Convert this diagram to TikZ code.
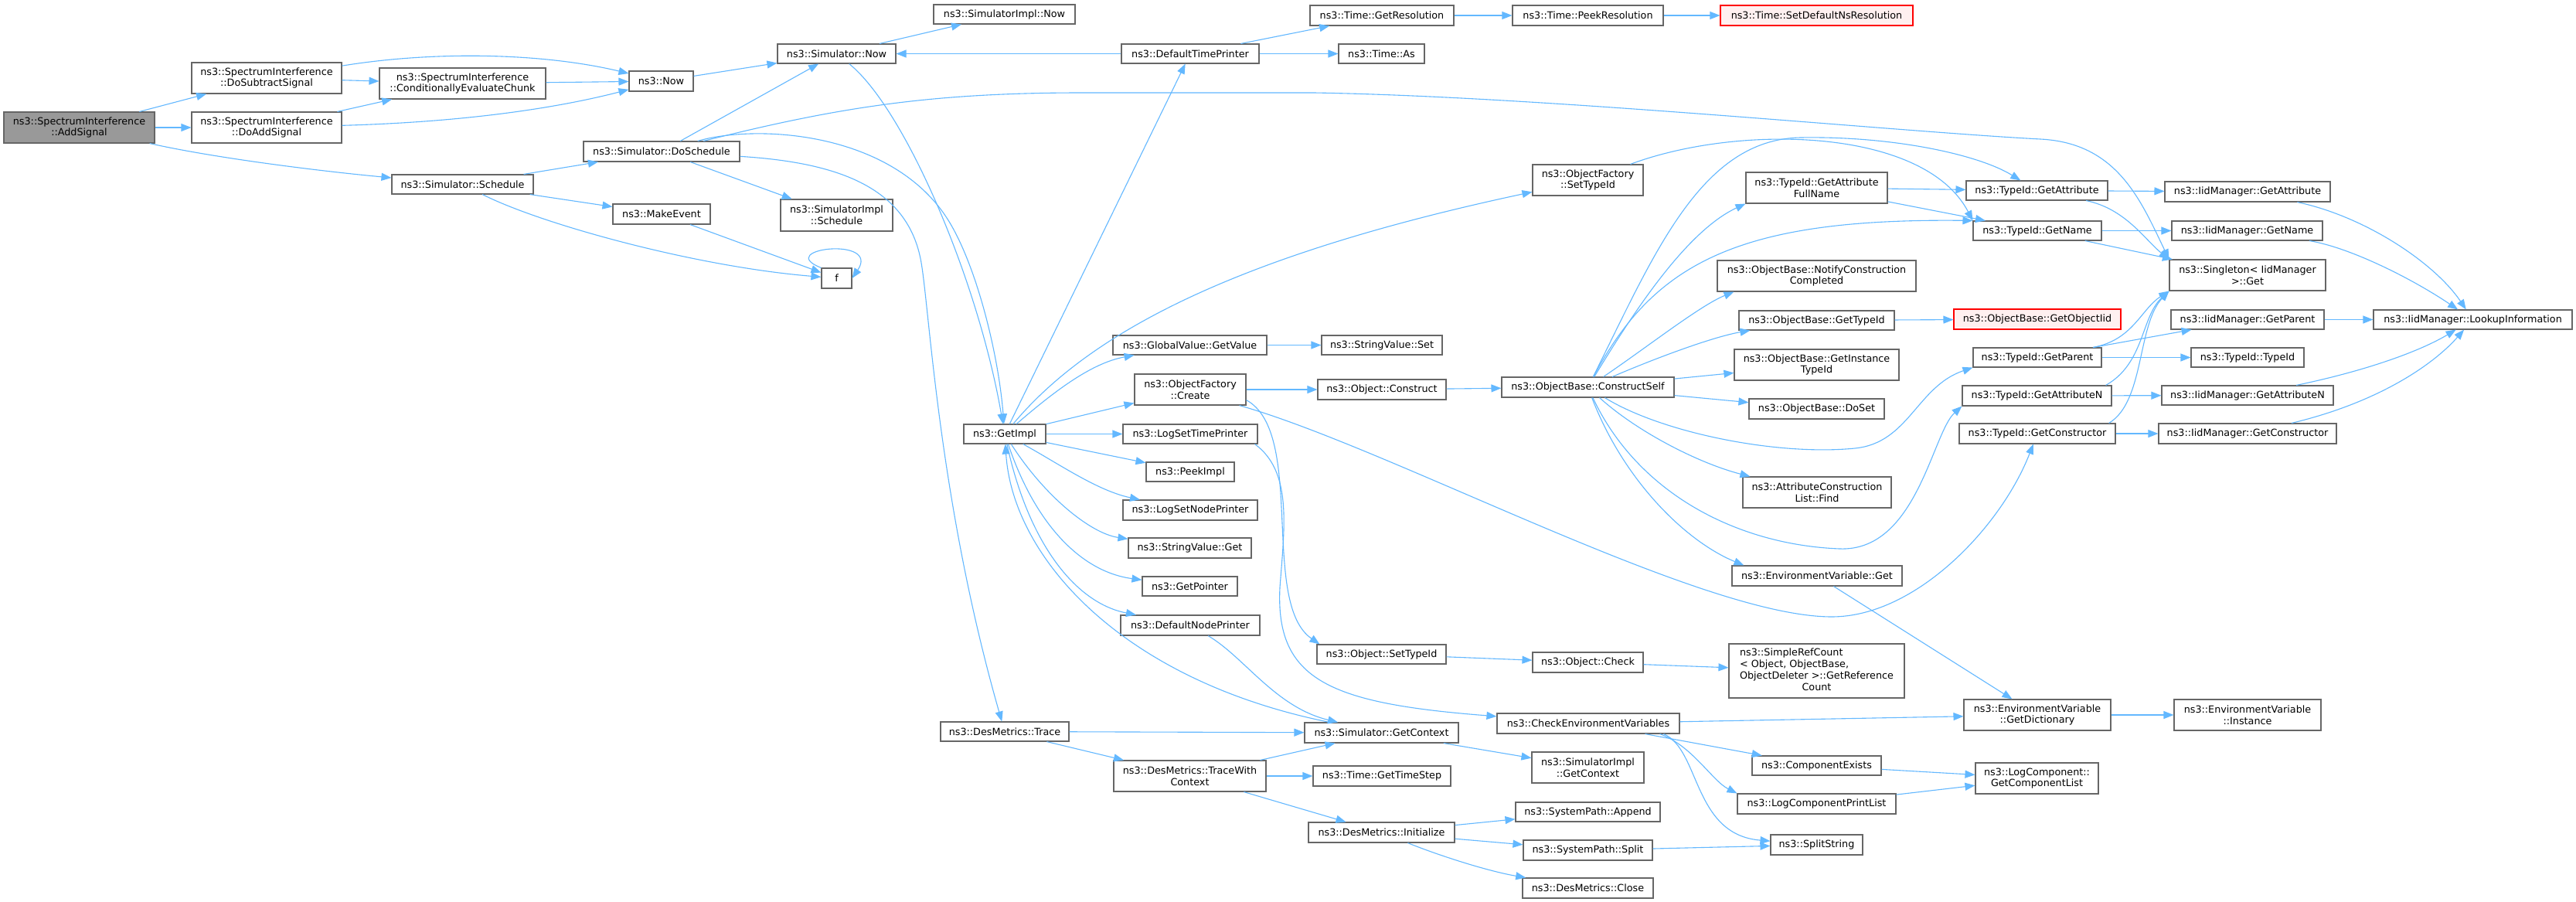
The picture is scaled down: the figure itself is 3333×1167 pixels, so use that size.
\documentclass[tikz,border=0pt]{standalone}
\usepackage{fontspec}
\setmainfont{DejaVu Sans}
\usetikzlibrary{arrows.meta}
\definecolor{edgec}{HTML}{63B8FF}
\definecolor{nodeb}{HTML}{666666}
\definecolor{rootf}{HTML}{999999}
\definecolor{redb}{HTML}{FF0000}
\definecolor{redf}{HTML}{FFF0F0}
\tikzset{
 box/.style={draw=nodeb, fill=white, line width=1.1pt, inner sep=1pt, align=center, font=\fontsize{12.75}{14.7}\selectfont, text=black},
 rootbox/.style={fill=rootf},
 redbox/.style={draw=redb, fill=redf},
 calledge/.style={draw=edgec, line width=1.1pt, -{Triangle[length=13pt,width=10pt]}}
}
\newcommand{\gbox}[7][]{\node[box,#1,minimum width={(#5-#3)*1pt},minimum height={(#6-#4)*1pt}] (#2) at ({(#3+#5)/2},{(#4+#6)/2}) {#7};}
\begin{document}
\begin{tikzpicture}[x=1pt,y=-1pt]
\fill[white] (0,0) rectangle (3333,1167);
\useasboundingbox (0,0) rectangle (3333,1167);
% nodes
\gbox[rootbox]{addsig}{5}{145}{200}{185}{ns3::SpectrumInterference\\::AddSignal}
\gbox{dosub}{248}{81}{442}{121}{ns3::SpectrumInterference\\::DoSubtractSignal}
\gbox{doadd}{248}{145}{442}{185}{ns3::SpectrumInterference\\::DoAddSignal}
\gbox{cond}{491}{88}{706}{128}{ns3::SpectrumInterference\\::ConditionallyEvaluateChunk}
\gbox{sched}{507}{226}{690}{251}{ns3::Simulator::Schedule}
\gbox{now}{814}{92}{897}{118}{ns3::Now}
\gbox{simnow}{1006}{57}{1159}{82}{ns3::Simulator::Now}
\gbox{dosched}{755}{183}{957}{209}{ns3::Simulator::DoSchedule}
\gbox{mkev}{793}{264}{919}{290}{ns3::MakeEvent}
\gbox{implsched}{1010}{258}{1155}{299}{ns3::SimulatorImpl\\::Schedule}
\gbox{f}{1063}{347}{1102}{373}{f}
\gbox{implnow}{1208}{6}{1391}{31}{ns3::SimulatorImpl::Now}
\gbox{dtp}{1451}{57}{1629}{82}{ns3::DefaultTimePrinter}
\gbox{getres}{1695}{7}{1881}{33}{ns3::Time::GetResolution}
\gbox{peekres}{1957}{7}{2152}{33}{ns3::Time::PeekResolution}
\gbox{timeas}{1732}{57}{1843}{82}{ns3::Time::As}
\gbox{ofset}{1983}{213}{2126}{253}{ns3::ObjectFactory\\::SetTypeId}
\gbox[redbox]{setdef}{2226}{7}{2475}{33}{ns3::Time::SetDefaultNsResolution}
\gbox{gafn}{2259}{223}{2442}{263}{ns3::TypeId::GetAttribute\\FullName}
\gbox{tga}{2544}{234}{2727}{259}{ns3::TypeId::GetAttribute}
\gbox{tgn}{2553}{286}{2719}{311}{ns3::TypeId::GetName}
\gbox{notify}{2222}{337}{2479}{377}{ns3::ObjectBase::NotifyConstruction\\Completed}
\gbox{obgt}{2250}{402}{2451}{427}{ns3::ObjectBase::GetTypeId}
\gbox[redbox]{goiid}{2528}{400}{2744}{426}{ns3::ObjectBase::GetObjectIid}
\gbox{iga}{2801}{235}{3015}{261}{ns3::IidManager::GetAttribute}
\gbox{ign}{2810}{286}{3005}{311}{ns3::IidManager::GetName}
\gbox{single}{2807}{336}{3009}{376}{ns3::Singleton< IidManager\\>::Get}
\gbox{igp}{2809}{401}{3007}{426}{ns3::IidManager::GetParent}
\gbox{ttid}{2835}{450}{2981}{475}{ns3::TypeId::TypeId}
\gbox{igan}{2797}{499}{3019}{524}{ns3::IidManager::GetAttributeN}
\gbox{igc}{2793}{548}{3023}{574}{ns3::IidManager::GetConstructor}
\gbox{lookup}{3071}{401}{3328}{426}{ns3::IidManager::LookupInformation}
\gbox{gv}{1440}{434}{1639}{459}{ns3::GlobalValue::GetValue}
\gbox{ofc}{1468}{484}{1612}{524}{ns3::ObjectFactory\\::Create}
\gbox{getimpl}{1247}{549}{1353}{574}{ns3::GetImpl}
\gbox{lstp}{1453}{549}{1627}{574}{ns3::LogSetTimePrinter}
\gbox{peekimpl}{1483}{598}{1597}{623}{ns3::PeekImpl}
\gbox{lsnp}{1453}{647}{1627}{673}{ns3::LogSetNodePrinter}
\gbox{svget}{1460}{696}{1619}{722}{ns3::StringValue::Get}
\gbox{getptr}{1478}{746}{1601}{771}{ns3::GetPointer}
\gbox{dnp}{1450}{796}{1630}{822}{ns3::DefaultNodePrinter}
\gbox{dmtrace}{1217}{934}{1383}{959}{ns3::DesMetrics::Trace}
\gbox{simctx}{1688}{935}{1887}{961}{ns3::Simulator::GetContext}
\gbox{twc}{1441}{984}{1638}{1024}{ns3::DesMetrics::TraceWith\\Context}
\gbox{gts}{1699}{991}{1877}{1017}{ns3::Time::GetTimeStep}
\gbox{dminit}{1693}{1064}{1882}{1090}{ns3::DesMetrics::Initialize}
\gbox{objset}{1704}{834}{1871}{859}{ns3::Object::SetTypeId}
\gbox{objcheck}{1983}{844}{2126}{870}{ns3::Object::Check}
\gbox{srcount}{2237}{833}{2464}{903}{\begin{tabular}{@{}l@{}}ns3::SimpleRefCount\\< Object, ObjectBase,\\ObjectDeleter >::GetReference\\\multicolumn{1}{@{}c@{}}{Count}\end{tabular}}
\gbox{cev}{1937}{923}{2173}{949}{ns3::CheckEnvironmentVariables}
\gbox{implctx}{1982}{973}{2127}{1013}{ns3::SimulatorImpl\\::GetContext}
\gbox{compex}{2267}{978}{2434}{1003}{ns3::ComponentExists}
\gbox{lcpl}{2248}{1027}{2453}{1053}{ns3::LogComponentPrintList}
\gbox{spappend}{1961}{1038}{2148}{1063}{ns3::SystemPath::Append}
\gbox{spsplit}{1971}{1087}{2138}{1113}{ns3::SystemPath::Split}
\gbox{splitstr}{2291}{1080}{2410}{1106}{ns3::SplitString}
\gbox{dmclose}{1970}{1136}{2139}{1162}{ns3::DesMetrics::Close}
\gbox{svset}{1710}{434}{1866}{459}{ns3::StringValue::Set}
\gbox{objcons}{1705}{491}{1871}{517}{ns3::Object::Construct}
\gbox{cself}{1943}{488}{2166}{514}{ns3::ObjectBase::ConstructSelf}
\gbox{ginst}{2244}{452}{2457}{492}{ns3::ObjectBase::GetInstance\\TypeId}
\gbox{doset}{2263}{516}{2438}{542}{ns3::ObjectBase::DoSet}
\gbox{acfind}{2255}{617}{2447}{657}{ns3::AttributeConstruction\\List::Find}
\gbox{evget}{2241}{732}{2461}{758}{ns3::EnvironmentVariable::Get}
\gbox{tgp}{2553}{450}{2719}{475}{ns3::TypeId::GetParent}
\gbox{tgan}{2539}{499}{2732}{525}{ns3::TypeId::GetAttributeN}
\gbox{tgc}{2535}{548}{2737}{574}{ns3::TypeId::GetConstructor}
\gbox{gdict}{2541}{905}{2731}{945}{ns3::EnvironmentVariable\\::GetDictionary}
\gbox{evinst}{2813}{905}{3003}{945}{ns3::EnvironmentVariable\\::Instance}
\gbox{gcl}{2556}{987}{2715}{1027}{ns3::LogComponent::\\GetComponentList}
% edges
\draw[calledge] (addsig) -- (dosub);
\draw[calledge] (addsig) -- (doadd);
\draw[calledge] (addsig) .. controls (280,205) and (420,222) .. (sched);
\draw[calledge] (dosub) -- (cond);
\draw[calledge] (dosub) .. controls (560,66) and (700,68) .. (now);
\draw[calledge] (doadd) -- (cond);
\draw[calledge] (doadd) .. controls (600,158) and (720,140) .. (now);
\draw[calledge] (cond) -- (now);
\draw[calledge] (now) -- (simnow);
\draw[calledge] (sched) -- (dosched);
\draw[calledge] (sched) -- (mkev);
\draw[calledge] (sched) .. controls (700,290) and (900,345) .. (f);
\draw[calledge] (mkev) -- (f);
\draw[calledge] (f.north west) .. controls (1000,322) and (1140,305) .. (f.east);
\draw[calledge] (dosched) -- (simnow);
\draw[calledge] (dosched) -- (implsched);
\draw[calledge] (dosched) .. controls (980,160) and (1160,170) .. (1230,290) .. controls (1265,350) and (1292,460) .. (getimpl);
\draw[calledge] (dosched) .. controls (1080,210) and (1175,240) .. (1192,340) .. controls (1203,405) and (1215,650) .. (dmtrace);
\draw[calledge] (dosched) .. controls (1080,140) and (1200,120) .. (1400,120) -- (1700,120) .. controls (2000,125) and (2450,170) .. (2640,180) .. controls (2740,185) and (2770,260) .. (single.north west);
\draw[calledge] (simnow) -- (implnow);
\draw[calledge] (simnow) .. controls (1170,140) and (1265,360) .. (getimpl);
\draw[calledge] (dtp) -- (simnow);
\draw[calledge] (dtp) -- (getres);
\draw[calledge] (dtp) -- (timeas);
\draw[calledge] (getres) -- (peekres);
\draw[calledge] (peekres) -- (setdef);
\draw[calledge] (getimpl) -- (dtp);
\draw[calledge] (getimpl) .. controls (1410,430) and (1600,330) .. (ofset);
\draw[calledge] (getimpl) .. controls (1360,510) and (1410,470) .. (gv);
\draw[calledge] (getimpl) -- (ofc);
\draw[calledge] (getimpl) -- (lstp);
\draw[calledge] (getimpl) -- (peekimpl);
\draw[calledge] (getimpl) .. controls (1370,600) and (1420,635) .. (lsnp);
\draw[calledge] (getimpl) .. controls (1350,640) and (1410,690) .. (svget);
\draw[calledge] (getimpl) .. controls (1340,680) and (1400,740) .. (getptr);
\draw[calledge] (getimpl) .. controls (1330,700) and (1390,780) .. (dnp);
\draw[calledge] (simctx) .. controls (1450,880) and (1310,720) .. (getimpl);
\draw[calledge] (dnp) .. controls (1610,850) and (1650,915) .. (simctx);
\draw[calledge] (dmtrace) -- (simctx);
\draw[calledge] (dmtrace) -- (twc);
\draw[calledge] (twc) -- (simctx);
\draw[calledge] (twc) -- (gts);
\draw[calledge] (twc) -- (dminit);
\draw[calledge] (simctx) -- (implctx);
\draw[calledge] (dminit) -- (spappend);
\draw[calledge] (dminit) -- (spsplit);
\draw[calledge] (dminit) .. controls (1870,1110) and (1930,1128) .. (dmclose);
\draw[calledge] (spsplit) -- (splitstr);
\draw[calledge] (gv) -- (svset);
\draw[calledge] (ofc) -- (objcons);
\draw[calledge] ([yshift=7pt]ofc.south east) .. controls (1690,560) and (1630,780) .. ([xshift=4pt]objset.north west);
\draw[calledge] ([xshift=-9pt]ofc.south east) .. controls (1800,580) and (2200,798) .. (2370,798) .. controls (2480,798) and (2590,680) .. (tgc);
\draw[calledge] ([xshift=-4pt]lstp.south east) .. controls (1672,610) and (1662,680) .. (1656,760) .. controls (1650,880) and (1720,910) .. (cev);
\draw[calledge] (objcons) -- (cself);
\draw[calledge] (ofset) .. controls (2250,160) and (2490,165) .. (tgn.north west);
\draw[calledge] (cself) .. controls (2140,330) and (2200,180) .. (2330,178) .. controls (2450,176) and (2560,200) .. (tga);
\draw[calledge] (cself) .. controls (2110,410) and (2180,300) .. (gafn.south west);
\draw[calledge] (cself) .. controls (2140,340) and (2250,282) .. (tgn.north west);
\draw[calledge] (cself) .. controls (2130,450) and (2200,395) .. ([xshift=22pt]notify.south west);
\draw[calledge] (cself) .. controls (2150,460) and (2220,435) .. ([xshift=15pt]obgt.south west);
\draw[calledge] (cself) -- (ginst);
\draw[calledge] (cself) -- (doset);
\draw[calledge] (cself) .. controls (2150,560) and (2300,590) .. (2400,580) .. controls (2470,573) and (2480,500) .. (tgp.south west);
\draw[calledge] (cself) .. controls (2120,560) and (2200,600) .. ([xshift=10pt]acfind.north west);
\draw[calledge] (cself) .. controls (2120,640) and (2250,705) .. (2380,710) .. controls (2480,714) and (2500,560) .. (tgan.south west);
\draw[calledge] (cself) .. controls (2100,620) and (2180,700) .. ([xshift=16pt]evget.north west);
\draw[calledge] (gafn) -- (tga);
\draw[calledge] (gafn) -- (tgn);
\draw[calledge] (tga) -- (iga);
\draw[calledge] (tga) .. controls (2750,270) and (2775,310) .. (single.north west);
\draw[calledge] (tgn) -- (ign);
\draw[calledge] (tgn) -- (single);
\draw[calledge] (iga) .. controls (3060,280) and (3150,340) .. (lookup);
\draw[calledge] (ign) .. controls (3040,320) and (3120,360) .. (lookup);
\draw[calledge] (igp) -- (lookup);
\draw[calledge] (igan) .. controls (3060,480) and (3130,455) .. (lookup);
\draw[calledge] (igc) .. controls (3080,520) and (3150,470) .. (lookup);
\draw[calledge] (tgp) -- (igp);
\draw[calledge] (tgp) -- (ttid);
\draw[calledge] (tgp) .. controls (2760,440) and (2770,400) .. (single.south west);
\draw[calledge] (tgan) -- (igan);
\draw[calledge] ([xshift=-8pt]tgan.north east) .. controls (2775,470) and (2770,410) .. (single.south west);
\draw[calledge] (tgc) -- (igc);
\draw[calledge] ([xshift=-9pt]tgc.north east) .. controls (2775,520) and (2765,420) .. (single.south west);
\draw[calledge] (obgt) -- (goiid);
\draw[calledge] (objset) -- (objcheck);
\draw[calledge] (objcheck) -- (srcount);
\draw[calledge] (cev) -- (gdict);
\draw[calledge] (cev) -- (compex);
\draw[calledge] ([xshift=-26pt]cev.south east) .. controls (2190,965) and (2215,1010) .. (lcpl.north west);
\draw[calledge] ([xshift=-21pt]cev.south east) .. controls (2200,970) and (2190,1080) .. (splitstr);
\draw[calledge] (compex) -- (gcl);
\draw[calledge] (lcpl) -- (gcl);
\draw[calledge] (evget) -- (gdict);
\draw[calledge] (gdict) -- (evinst);
\end{tikzpicture}
\end{document}
